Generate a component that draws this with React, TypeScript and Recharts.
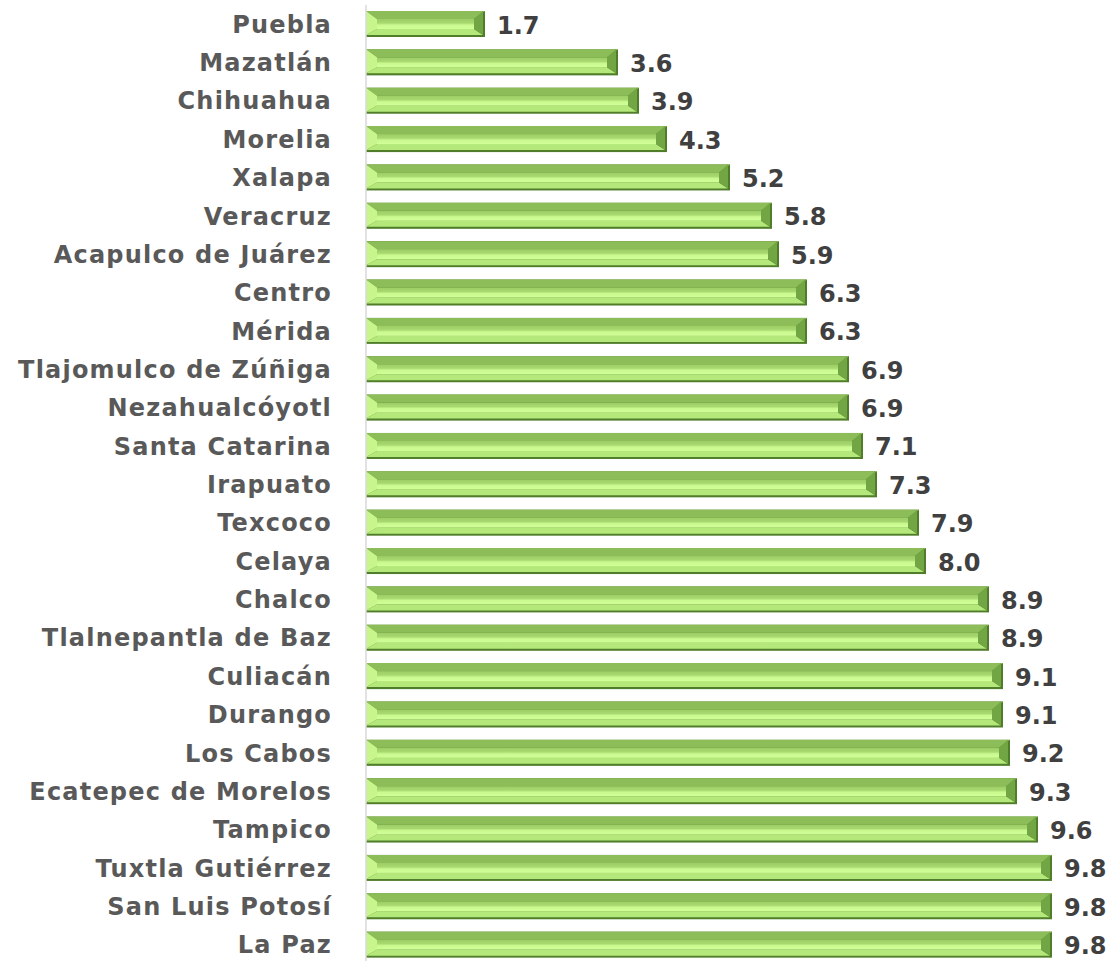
import React from "react";
import { BarChart, Bar, XAxis, YAxis, LabelList } from "recharts";

const cities = [
  "Puebla",
  "Mazatlán",
  "Chihuahua",
  "Morelia",
  "Xalapa",
  "Veracruz",
  "Acapulco de Juárez",
  "Centro",
  "Mérida",
  "Tlajomulco de Zúñiga",
  "Nezahualcóyotl",
  "Santa Catarina",
  "Irapuato",
  "Texcoco",
  "Celaya",
  "Chalco",
  "Tlalnepantla de Baz",
  "Culiacán",
  "Durango",
  "Los Cabos",
  "Ecatepec de Morelos",
  "Tampico",
  "Tuxtla Gutiérrez",
  "San Luis Potosí",
  "La Paz",
];

const values = [
  1.7, 3.6, 3.9, 4.3, 5.2, 5.8, 5.9, 6.3, 6.3, 6.9, 6.9, 7.1, 7.3, 7.9, 8.0,
  8.9, 8.9, 9.1, 9.1, 9.2, 9.3, 9.6, 9.8, 9.8, 9.8,
];

const data = cities.map((name, i) => ({ name, value: values[i] }));

const BevelBar = (props: any) => {
  const { x, y, width: w, height: h } = props;
  if (!w || w <= 0) return null;
  const bx = 11;
  const by = 8;
  return (
    <g>
      <rect x={x} y={y} width={w} height={h} fill="#4f7d29" />
      {/* top bevel */}
      <polygon
        points={`${x},${y} ${x + w},${y} ${x + w - bx},${y + by} ${x + bx},${y + by}`}
        fill="#8dbd58"
      />
      {/* bottom bevel */}
      <polygon
        points={`${x},${y + h - 2} ${x + w - 2},${y + h - 2} ${x + w - bx},${y + h - by} ${x + bx},${y + h - by}`}
        fill="#b5e87a"
      />
      {/* left bevel */}
      <polygon
        points={`${x},${y} ${x + bx},${y + by} ${x + bx},${y + h - by} ${x},${y + h - 2}`}
        fill="#c8f68c"
      />
      {/* right bevel */}
      <polygon
        points={`${x + w - 2},${y} ${x + w - bx},${y + by} ${x + w - bx},${y + h - by} ${x + w - 2},${y + h - 2}`}
        fill="#72a543"
      />
      {/* face */}
      <rect
        x={x + bx}
        y={y + by}
        width={Math.max(0, w - 2 * bx)}
        height={h - 2 * by}
        fill="url(#faceGrad)"
      />
    </g>
  );
};

export default function App() {
  return (
    <div style={{ position: "absolute", left: 0, top: 0, background: "#fff" }}>
      <BarChart
        width={1113}
        height={968}
        data={data}
        layout="vertical"
        margin={{ top: 5, right: 47, bottom: 4, left: 0 }}
        barSize={26}
      >
        <defs>
          <linearGradient id="faceGrad" x1="0" y1="0" x2="0" y2="1">
            <stop offset="0%" stopColor="#9ccd64" />
            <stop offset="40%" stopColor="#a8d870" />
            <stop offset="60%" stopColor="#c9f98f" />
            <stop offset="100%" stopColor="#d2ff98" />
          </linearGradient>
        </defs>
        <XAxis type="number" domain={[0, 10]} hide />
        <YAxis
          type="category"
          dataKey="name"
          width={366}
          axisLine={{ stroke: "#d9d9d9", strokeWidth: 1.5 }}
          tickLine={false}
          tickMargin={28}
          interval={0}
          tick={{
            fill: "#595959",
            fontSize: 24,
            fontWeight: "bold",
            fontFamily: "DejaVu Sans",
            letterSpacing: 1.2,
          }}
        />
        <Bar dataKey="value" shape={<BevelBar />} isAnimationActive={false}>
          <LabelList
            dataKey="value"
            position="right"
            offset={12}
            formatter={(v: any) => Number(v).toFixed(1)}
            style={{
              fill: "#404040",
              fontSize: 24,
              fontWeight: "bold",
              fontFamily: "DejaVu Sans",
            }}
            dy={1}
          />
        </Bar>
      </BarChart>
    </div>
  );
}
